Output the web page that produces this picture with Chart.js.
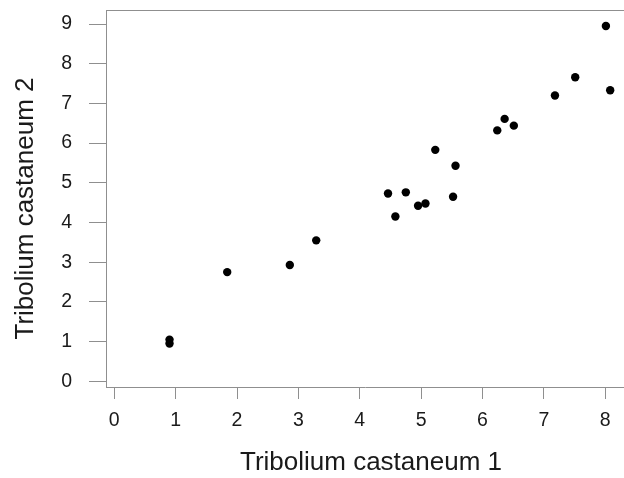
<!DOCTYPE html>
<html lang="en">
  <head>
    <meta charset="UTF-8" />
    <title>Tribolium castaneum</title>
    <script src="https://cdn.jsdelivr.net/npm/chart.js@4.4.1/dist/chart.umd.min.js"></script>
    <style>
      html,
      body {
        margin: 0;
        padding: 0;
        background: #fff;
        overflow: hidden;
      }
      #plot {
        display: block;
      }
    </style>
  </head>
  <body>
    <canvas id="plot" width="624" height="478"></canvas>

    <script>
      // values
      const xValues = [0.9, 0.9, 1.84, 2.86, 3.29, 4.46, 4.58, 4.75, 4.95, 5.07, 5.23, 5.52, 5.56, 6.24, 6.36, 6.51, 7.18, 7.51, 8.01, 8.08];
      const yValues = [1.05, 0.95, 2.75, 2.93, 3.55, 4.73, 4.15, 4.76, 4.42, 4.48, 5.83, 4.65, 5.43, 6.32, 6.61, 6.44, 7.2, 7.66, 8.95, 7.33];
      const xTicks = [0, 1, 2, 3, 4, 5, 6, 7, 8];
      const yTicks = [0, 1, 2, 3, 4, 5, 6, 7, 8, 9];
      const xTitle = "Tribolium castaneum 1";
      const yTitle = "Tribolium castaneum 2";

      const FONT = "'Liberation Sans', Arial, sans-serif";
      const GREY = "#8f8f8f";
      const INK = "#1a1a1a";

      const points = xValues.map((x, i) => ({ x: x, y: yValues[i] }));

      // top edge of the box and the axis titles (the right edge is cut off in the original)
      const frame = {
        id: "frame",
        afterDraw(chart) {
          const { ctx, chartArea } = chart;
          ctx.save();
          ctx.strokeStyle = GREY;
          ctx.lineWidth = 1;
          ctx.beginPath();
          ctx.moveTo(chartArea.left, chartArea.top + 0.5);
          ctx.lineTo(chartArea.right, chartArea.top + 0.5);
          ctx.stroke();

          ctx.fillStyle = INK;
          ctx.font = "26px " + FONT;
          ctx.textAlign = "center";
          ctx.textBaseline = "alphabetic";
          ctx.fillText(xTitle, (chartArea.left + chartArea.right) / 2 + 6, 470);

          ctx.translate(33, (chartArea.top + chartArea.bottom) / 2 + 10);
          ctx.rotate(-Math.PI / 2);
          ctx.fillText(yTitle, 0, 0);
          ctx.restore();
        },
      };

      new Chart(document.getElementById("plot"), {
        type: "scatter",
        data: {
          datasets: [
            {
              data: points,
              backgroundColor: "#000",
              borderColor: "#000",
              borderWidth: 0,
              pointRadius: 4.2,
              pointHoverRadius: 4.2,
            },
          ],
        },
        options: {
          responsive: false,
          animation: false,
          events: [],
          layout: { autoPadding: false, padding: { top: 10, left: 0, right: 0, bottom: 0 } },
          plugins: {
            legend: { display: false },
            tooltip: { enabled: false },
          },
          scales: {
            x: {
              type: "linear",
              min: -0.135,
              max: 8.305,
              afterBuildTicks: (axis) => {
                axis.ticks = xTicks.map((v) => ({ value: v }));
              },
              afterFit: (axis) => {
                axis.height = 91;
                axis.paddingLeft = 0;
                axis.paddingRight = 0;
              },
              grid: {
                drawOnChartArea: false,
                drawTicks: true,
                tickLength: 12,
                tickColor: GREY,
              },
              border: { display: true, color: GREY, width: 1 },
              ticks: {
                color: INK,
                padding: 10,
                maxRotation: 0,
                font: { family: FONT, size: 19.5 },
              },
            },
            y: {
              type: "linear",
              min: -0.144,
              max: 9.353,
              afterBuildTicks: (axis) => {
                axis.ticks = yTicks.map((v) => ({ value: v }));
              },
              afterFit: (axis) => {
                axis.width = 106;
                axis.paddingTop = 0;
                axis.paddingBottom = 0;
              },
              grid: {
                drawOnChartArea: false,
                drawTicks: true,
                tickLength: 17,
                tickColor: GREY,
              },
              border: { display: true, color: GREY, width: 1 },
              ticks: {
                color: INK,
                padding: 17,
                font: { family: FONT, size: 19.5 },
              },
            },
          },
        },
        plugins: [frame],
      });
    </script>
  </body>
</html>
